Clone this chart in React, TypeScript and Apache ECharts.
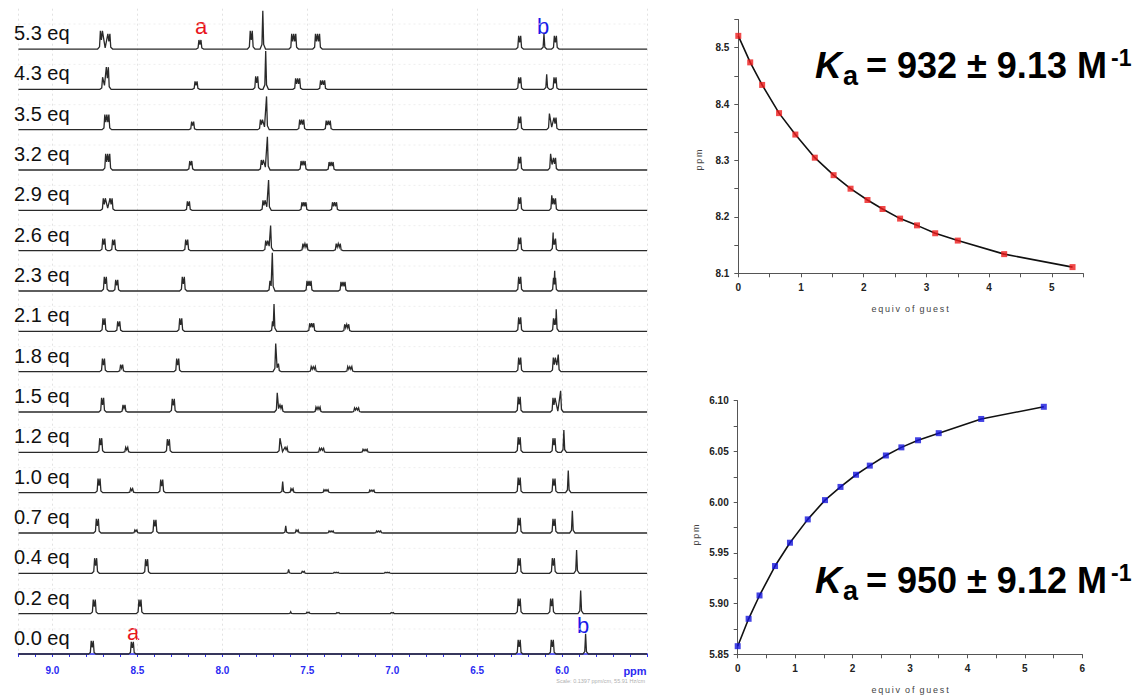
import React, { useEffect, useRef } from "react";
import * as echarts from "echarts";

// ---------- NMR titration spectra (top trace first) ----------
const eqLabels = ["5.3 eq", "4.3 eq", "3.5 eq", "3.2 eq", "2.9 eq", "2.6 eq", "2.3 eq", "2.1 eq",
  "1.8 eq", "1.5 eq", "1.2 eq", "1.0 eq", "0.7 eq", "0.4 eq", "0.2 eq", "0.0 eq"];

// each peak: [ppm, intensity, number of lines]
const spec53 = [[8.712, 18, 2], [8.668, 15, 2], [8.132, 9, 2], [7.83, 18, 2], [7.762, 38, 1], [7.58, 15, 3], [7.44, 15, 3], [6.25, 13, 2], [6.107, 15, 1], [6.04, 13, 2]];
const spec43 = [[8.705, 12, 1], [8.677, 22, 2], [8.155, 8, 2], [7.798, 13, 2], [7.745, 38, 1], [7.557, 11, 3], [7.41, 9, 3], [6.25, 12, 2], [6.091, 15, 1], [6.042, 12, 2]];
const spec35 = [[8.68, 15, 3], [8.175, 8, 2], [7.77, 10, 2], [7.74, 33, 1], [7.533, 10, 3], [7.377, 9, 3], [6.25, 13, 2], [6.075, 16, 1], [6.042, 12, 2]];
const spec32 = [[8.675, 16, 3], [8.186, 9, 2], [7.765, 10, 2], [7.735, 33, 1], [7.525, 9, 3], [7.36, 8, 3], [6.25, 13, 2], [6.068, 16, 1], [6.045, 12, 2]];
const spec29 = [[8.695, 12, 2], [8.655, 12, 2], [8.2, 9, 2], [7.755, 10, 2], [7.728, 30, 1], [7.52, 8, 3], [7.34, 8, 3], [6.25, 13, 2], [6.061, 15, 1], [6.045, 12, 2]];
const spec26 = [[8.698, 12, 2], [8.64, 11, 2], [8.21, 11, 2], [7.739, 10, 2], [7.716, 25, 1], [7.514, 7, 3], [7.318, 7, 3], [6.25, 13, 2], [6.053, 18, 1], [6.045, 12, 2]];
const spec23 = [[8.689, 14, 2], [8.622, 11, 2], [8.23, 14, 2], [7.72, 10, 1], [7.706, 38, 1], [7.49, 10, 3], [7.29, 9, 3], [6.25, 14, 2], [6.045, 13, 2], [6.044, 20, 1]];
const spec21 = [[8.697, 13, 2], [8.61, 10, 2], [8.245, 13, 2], [7.705, 10, 1], [7.696, 27, 1], [7.474, 8, 3], [7.268, 7, 3], [6.25, 14, 2], [6.045, 13, 2], [6.035, 22, 1]];
const spec18 = [[8.7, 13, 2], [8.593, 7, 2], [8.263, 13, 2], [7.686, 28, 1], [7.67, 8, 1], [7.465, 5, 3], [7.25, 5, 3], [6.25, 14, 2], [6.046, 14, 2], [6.023, 17, 1]];
const spec15 = [[8.705, 14, 2], [8.579, 7, 2], [8.289, 13, 2], [7.677, 19, 1], [7.655, 7, 2], [7.437, 5, 3], [7.21, 4, 3], [6.253, 15, 2], [6.048, 14, 2], [6.009, 21, 1]];
const spec12 = [[8.716, 14, 2], [8.563, 5, 2], [8.318, 13, 2], [7.661, 14, 1], [7.625, 5, 2], [7.416, 4, 3], [7.16, 3, 3], [6.253, 15, 2], [6.048, 14, 2], [5.99, 22, 1]];
const spec10 = [[8.726, 14, 2], [8.534, 4, 2], [8.357, 13, 2], [7.645, 11, 1], [7.59, 4, 2], [7.39, 3, 3], [7.12, 2.5, 3], [6.253, 15, 2], [6.048, 14, 2], [5.964, 22, 1]];
const spec07 = [[8.736, 14, 2], [8.509, 3, 2], [8.397, 13, 2], [7.627, 7, 1], [7.56, 3, 2], [7.36, 2, 3], [7.08, 2, 3], [6.253, 15, 2], [6.048, 14, 2], [5.94, 22, 1]];
const spec04 = [[8.746, 15, 2], [8.446, 14, 2], [7.61, 4, 1], [7.524, 2, 2], [7.33, 1, 3], [7.03, 1, 3], [6.253, 15, 2], [6.052, 15, 2], [5.915, 23, 1]];
const spec02 = [[8.754, 14, 2], [8.485, 14, 2], [7.598, 2, 1], [7.496, 1.5, 2], [7.32, 1, 2], [7.0, 1, 2], [6.253, 15, 2], [6.062, 15, 2], [5.891, 23, 1]];
const spec00 = [[8.766, 13, 2], [8.53, 12, 2], [6.253, 14, 2], [6.058, 14, 2], [5.862, 20, 1]];

const spectra = [spec53, spec43, spec35, spec32, spec29, spec26, spec23, spec21,
  spec18, spec15, spec12, spec10, spec07, spec04, spec02, spec00];

// ---------- binding isotherms ----------
const equivGuest = [0, 0.19, 0.38, 0.65, 0.91, 1.22, 1.52, 1.79, 2.06, 2.3, 2.58, 2.85, 3.14, 3.5, 4.24, 5.33];
const shiftA = [8.521, 8.474, 8.434, 8.384, 8.346, 8.305, 8.274, 8.25, 8.23, 8.214, 8.197, 8.185, 8.171, 8.158, 8.134, 8.111];
const shiftB = [5.858, 5.885, 5.908, 5.937, 5.96, 5.983, 6.002, 6.015, 6.027, 6.036, 6.046, 6.054, 6.061, 6.068, 6.082, 6.094];

const FONT = "'Liberation Sans', Arial, Helvetica, sans-serif";
const PPM_MIN = 5.5;
const PPM_MAX = 9.2;
const TRACE_GAP = 40;
const J = 0.012;

function renderTrace(params: any, api: any) {
  const i = params.dataIndex;
  const n = spectra.length;
  const off = (n - 1 - i) * TRACE_GAP;
  const lines: number[][] = [];
  for (const [p, h, m] of spectra[i]) {
    for (let k = 0; k < m; k++) lines.push([p + ((m - 1) / 2 - k) * J, h]);
  }
  lines.sort((a, b) => b[0] - a[0]);
  const clusters: number[][][] = [];
  for (const l of lines) {
    const c = clusters[clusters.length - 1];
    if (c && c[c.length - 1][0] - l[0] < 0.034) c.push(l);
    else clusters.push([l]);
  }
  const pts: number[][] = [api.coord([PPM_MAX, off])];
  for (const c of clusters) {
    const first = c[0];
    const last = c[c.length - 1];
    pts.push(api.coord([first[0] + 0.016, off]));
    pts.push(api.coord([first[0] + 0.005, off + first[1] * 0.12]));
    c.forEach((l, k) => {
      if (k > 0) {
        const prev = c[k - 1];
        const d = prev[0] - l[0];
        const frac = d <= 0.014 ? 0.5 : 0.5 * (0.034 - d) / 0.02 + 0.03;
        pts.push(api.coord([(prev[0] + l[0]) / 2, off + Math.min(prev[1], l[1]) * frac]));
      }
      pts.push(api.coord([l[0], off + l[1]]));
    });
    pts.push(api.coord([last[0] - 0.005, off + last[1] * 0.12]));
    pts.push(api.coord([last[0] - 0.016, off]));
  }
  pts.push(api.coord([PPM_MIN, off]));
  const base = api.coord([PPM_MAX, off]);
  const end = api.coord([PPM_MIN, off]);
  return {
    type: "group",
    children: [
      {
        type: "line",
        shape: { x1: base[0], y1: base[1] - 25, x2: end[0], y2: base[1] - 25 },
        style: { stroke: "#eeeeee", lineWidth: 1, lineDash: [2, 3] },
        silent: true,
      },
      {
        type: "polyline",
        shape: { points: pts },
        style: { stroke: "#2a2a2a", fill: "none", lineWidth: 1.3 },
      },
      {
        type: "text",
        x: 14,
        y: base[1] - 16,
        style: {
          text: eqLabels[i], fill: "#111", fontSize: 20, fontFamily: FONT,
          align: "left", verticalAlign: "middle", textAlign: "left", textVerticalAlign: "middle",
        },
      },
    ],
  };
}

const rightAxisCommon = {
  type: "value",
  axisLine: { show: true, lineStyle: { color: "#555", width: 1 } },
  axisTick: { show: true, length: 4, lineStyle: { color: "#555" } },
  splitLine: { show: false },
};

function txt(x: number, y: number, text: string, o: any = {}) {
  return {
    type: "text",
    x, y,
    rotation: o.rotation || 0,
    style: {
      text,
      fill: o.fill || "#000",
      fontSize: o.fontSize || 12,
      fontWeight: o.fontWeight || "normal",
      fontStyle: o.fontStyle || "normal",
      fontFamily: FONT,
      align: o.align || "left",
      textAlign: o.align || "left",
      verticalAlign: "middle",
      textVerticalAlign: "middle",
    },
  };
}

function kaText(y0: number, value: string) {
  // y0 = text baseline
  return [
    txt(815, y0 - 13, "K", { fontSize: 37, fontWeight: "bold", fontStyle: "italic" }),
    txt(843, y0 - 2.5, "a", { fontSize: 27, fontWeight: "bold" }),
    txt(866, y0 - 12.5, value, { fontSize: 36, fontWeight: "bold" }),
    txt(1111, y0 - 20, "-1", { fontSize: 23, fontWeight: "bold" }),
  ];
}

const spaced = (s: string) => s.split(" ").map((w) => w.split("").join("\u2009")).join("  ");

export default function App() {
  const ref = useRef<HTMLDivElement>(null);
  useEffect(() => {
    if (!ref.current) return;
    const chart = echarts.init(ref.current, null, { renderer: "svg" });
    const is = (v: number, step: number) => Math.abs(v / step - Math.round(v / step)) < 1e-6;
    const option: any = {
      animation: false,
      backgroundColor: "#ffffff",
      grid: [
        { left: 18.5, top: 8.7, width: 628.6, height: 648 },
        { left: 738.3, top: 19.5, width: 344.9, height: 253.8 },
        { left: 737.7, top: 400.7, width: 344.6, height: 253.6 },
      ],
      xAxis: [
        {
          gridIndex: 0, type: "value", min: PPM_MIN, max: PPM_MAX, inverse: true, interval: 0.1,
          axisLine: { show: true, lineStyle: { color: "#2b2bf2", width: 1.5 } },
          axisTick: { show: true, length: 3, lineStyle: { color: "#2b2bf2" } },
          axisLabel: {
            color: "#2b2bf2", fontSize: 10, fontWeight: "bold", fontFamily: FONT, margin: 9,
            formatter: (v: number) => (is(v, 0.5) && v > 5.6 && v < 9.1 ? v.toFixed(1) : ""),
          },
          splitLine: { show: false },
        },
        {
          gridIndex: 0, type: "value", min: PPM_MIN, max: PPM_MAX, inverse: true, interval: 0.5,
          position: "bottom",
          axisLine: { show: false }, axisTick: { show: false }, axisLabel: { show: false },
          splitLine: { show: true, lineStyle: { color: "#e2e2e2", width: 1, type: [2, 3] } },
        },
        {
          ...rightAxisCommon, gridIndex: 1, min: 0, max: 5.5, interval: 0.5,
          axisLabel: {
            color: "#222", fontSize: 10, fontWeight: "bold", fontFamily: FONT, margin: 9,
            formatter: (v: number) => (is(v, 1) ? String(Math.round(v)) : ""),
          },
        },
        {
          ...rightAxisCommon, gridIndex: 2, min: 0, max: 6, interval: 0.5,
          axisLabel: {
            color: "#222", fontSize: 10, fontWeight: "bold", fontFamily: FONT, margin: 9,
            formatter: (v: number) => (is(v, 1) ? String(Math.round(v)) : ""),
          },
        },
      ],
      yAxis: [
        { gridIndex: 0, type: "value", min: -2.7, max: 640, show: false },
        {
          ...rightAxisCommon, gridIndex: 1, min: 8.1, max: 8.55, interval: 0.05,
          axisLabel: {
            color: "#222", fontSize: 10, fontWeight: "bold", fontFamily: FONT, margin: 9,
            formatter: (v: number) => (is(v, 0.1) && v < 8.52 ? v.toFixed(1) : ""),
          },
        },
        {
          ...rightAxisCommon, gridIndex: 2, min: 5.85, max: 6.1, interval: 0.025,
          axisLabel: {
            color: "#222", fontSize: 10, fontWeight: "bold", fontFamily: FONT, margin: 9,
            formatter: (v: number) => (is(v, 0.05) ? v.toFixed(2) : ""),
          },
        },
      ],
      series: [
        {
          type: "custom", xAxisIndex: 0, yAxisIndex: 0, coordinateSystem: "cartesian2d",
          renderItem: renderTrace, silent: true, clip: false,
          data: spectra.map((_, i) => [9, (spectra.length - 1 - i) * TRACE_GAP]),
        },
        {
          type: "line", xAxisIndex: 2, yAxisIndex: 1, smooth: false,
          symbol: "none", lineStyle: { color: "#111", width: 1.6 },
          data: equivGuest.map((x, i) => [x, shiftA[i]]), z: 2,
        },
        {
          type: "scatter", xAxisIndex: 2, yAxisIndex: 1, symbol: "rect", symbolSize: 6,
          itemStyle: { color: "#ee1c1c" }, clip: false,
          data: equivGuest.map((x, i) => [x, shiftA[i]]), z: 3,
        },
        {
          type: "line", xAxisIndex: 3, yAxisIndex: 2, smooth: false,
          symbol: "none", lineStyle: { color: "#111", width: 1.6 },
          data: equivGuest.map((x, i) => [x, shiftB[i]]), z: 2,
        },
        {
          type: "scatter", xAxisIndex: 3, yAxisIndex: 2, symbol: "rect", symbolSize: 6,
          itemStyle: { color: "#1414dc" }, clip: false,
          data: equivGuest.map((x, i) => [x, shiftB[i]]), z: 3,
        },
      ],
      graphic: [
        txt(201, 26, "a", { fontSize: 22, fill: "#e8141c", align: "center" }),
        txt(543, 26, "b", { fontSize: 22, fill: "#1a1ae8", align: "center" }),
        txt(133, 632, "a", { fontSize: 22, fill: "#e8141c", align: "center" }),
        txt(583, 625, "b", { fontSize: 22, fill: "#1a1ae8", align: "center" }),
        txt(635, 671, "ppm", { fontSize: 11, fontWeight: "bold", fill: "#2b2bf2", align: "center" }),
        txt(645, 681, "Scale: 0.1397 ppm/cm, 55.91 Hz/cm", { fontSize: 5.5, fill: "#b0b0b0", align: "right" }),
        txt(910, 309, spaced("equiv of guest"), { fontSize: 9, fill: "#444", align: "center" }),
        txt(910, 690, spaced("equiv of guest"), { fontSize: 9, fill: "#444", align: "center" }),
        txt(699, 160, spaced("ppm"), { fontSize: 9, fill: "#444", align: "center", rotation: Math.PI / 2 }),
        txt(696, 535, spaced("ppm"), { fontSize: 9, fill: "#444", align: "center", rotation: Math.PI / 2 }),
        ...kaText(78, "= 932 \u00b1 9.13 M"),
        ...kaText(593, "= 950 \u00b1 9.12 M"),
      ],
    };
    chart.setOption(option);
    return () => chart.dispose();
  }, []);
  return (
    <div
      ref={ref}
      style={{ position: "fixed", left: 0, top: 0, width: 1138, height: 696, background: "#fff" }}
    />
  );
}
